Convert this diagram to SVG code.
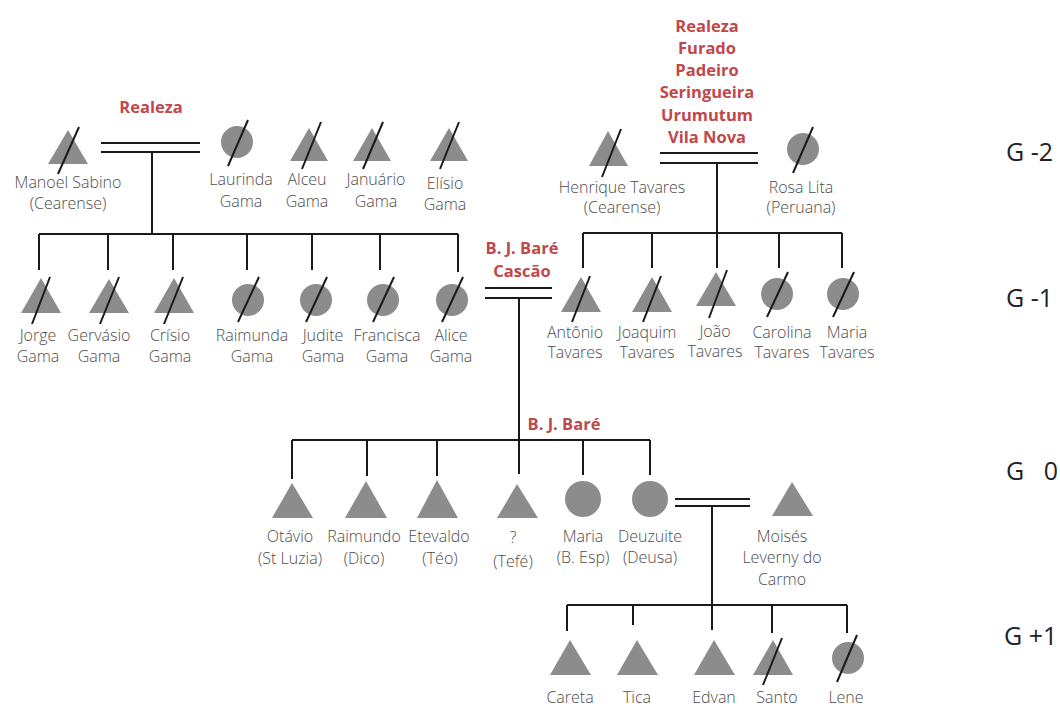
<svg xmlns="http://www.w3.org/2000/svg" width="1060" height="706" viewBox="0 0 1060 706">
  <style>
    .m { fill: #8c8c8c; }
    .f { fill: #8c8c8c; }
    .x { stroke: #1a1a1a; stroke-width: 2; stroke-linecap: butt; }
    .ln { stroke: #1a1a1a; stroke-width: 2; fill: none; }
    .t { font-family: "Open Sans", "Liberation Sans", sans-serif; font-size: 16px; font-weight: 300; fill: #4d4d4d; text-anchor: middle; }
    .r { font-family: "Open Sans", "Liberation Sans", sans-serif; font-size: 16.5px; font-weight: bold; fill: #c0474a; text-anchor: middle; }
    .g { font-family: "Open Sans", "Liberation Sans", sans-serif; font-size: 25px; fill: #222; }
  </style>

  <rect width="1060" height="706" fill="#ffffff"/>

  <!-- connectors: marriages (double lines), descent lines and sibships -->
  <g id="connectors" class="ln">
    <!-- Manoel Sabino = Laurinda Gama -->
    <path d="M101 143H200M101 152H200M152 152V234"/>
    <path d="M39 234H458M39 234V270M108 234V270M173 234V270M247 234V270M312 234V270M380 234V270M458 234V272"/>
    <!-- Henrique Tavares = Rosa Lita -->
    <path d="M660 153H758M660 163H758M717 163V233"/>
    <path d="M583 233H842M583 233V268M652 233V268M717 233V268M779 233V268M842 233V268"/>
    <!-- Alice Gama = Antônio Tavares -->
    <path d="M485 288H552M485 298H552M519 298V474"/>
    <path d="M292 440H650M292 440V479M367 440V476M437 440V476M583 440V475M650 440V475"/>
    <!-- Deuzuite = Moisés -->
    <path d="M675 499H750M675 506H750M712 506V605"/>
    <path d="M567 605H847M567 605V631M633 605V625M712 605V630M772 605V633M847 605V633"/>
  </g>

  <!-- kinship labels -->
  <g id="labels">
    <text class="r" x="151" y="113">Realeza</text>
    <text class="r" x="707" y="32">Realeza</text>
    <text class="r" x="707" y="54">Furado</text>
    <text class="r" x="707" y="76">Padeiro</text>
    <text class="r" x="707" y="98">Seringueira</text>
    <text class="r" x="707" y="121">Urumutum</text>
    <text class="r" x="707" y="143">Vila Nova</text>
    <text class="r" x="522" y="254">B. J. Baré</text>
    <text class="r" x="522" y="277">Cascão</text>
    <text class="r" x="564" y="430">B. J. Baré</text>
  </g>

  <!-- generation G-2 -->
  <g id="manoel">
    <polygon class="m" points="68,130 88,164 48,164"/>
    <line class="x" x1="79" y1="127" x2="58" y2="174"/>
    <text class="t" x="68" y="188">Manoel Sabino</text>
    <text class="t" x="68" y="209">(Cearense)</text>
  </g>
  <g id="laurinda">
    <circle class="f" cx="237" cy="142" r="16"/>
    <line class="x" x1="248" y1="120" x2="228" y2="166"/>
    <text class="t" x="241" y="185">Laurinda</text>
    <text class="t" x="241" y="207">Gama</text>
  </g>
  <g id="alceu">
    <polygon class="m" points="309,128 328,161 290,161"/>
    <line class="x" x1="321" y1="122" x2="302" y2="169"/>
    <text class="t" x="307" y="185">Alceu</text>
    <text class="t" x="307" y="207">Gama</text>
  </g>
  <g id="januario">
    <polygon class="m" points="372,128 391,161 353,161"/>
    <line class="x" x1="383" y1="122" x2="363" y2="169"/>
    <text class="t" x="376" y="185">Januário</text>
    <text class="t" x="376" y="207">Gama</text>
  </g>
  <g id="elisio">
    <polygon class="m" points="449,128 468,161 430,161"/>
    <line class="x" x1="459" y1="122" x2="440" y2="169"/>
    <text class="t" x="445" y="189">Elísio</text>
    <text class="t" x="445" y="210">Gama</text>
  </g>
  <g id="henrique">
    <polygon class="m" points="608,131 628,166 589,166"/>
    <line class="x" x1="621" y1="129" x2="602" y2="177"/>
    <text class="t" x="622" y="193">Henrique Tavares</text>
    <text class="t" x="622" y="213">(Cearense)</text>
  </g>
  <g id="rosa">
    <circle class="f" cx="803" cy="149" r="16"/>
    <line class="x" x1="813" y1="127" x2="793" y2="173"/>
    <text class="t" x="801" y="193">Rosa Lita</text>
    <text class="t" x="801" y="213">(Peruana)</text>
  </g>

  <!-- generation G-1 -->
  <g id="jorge">
    <polygon class="m" points="41,278 61,313 21,313"/>
    <line class="x" x1="50" y1="277" x2="32" y2="324"/>
    <text class="t" x="38" y="341">Jorge</text>
    <text class="t" x="38" y="362">Gama</text>
  </g>
  <g id="gervasio">
    <polygon class="m" points="109,279 129,313 89,313"/>
    <line class="x" x1="119" y1="277" x2="100" y2="324"/>
    <text class="t" x="99" y="341">Gervásio</text>
    <text class="t" x="99" y="362">Gama</text>
  </g>
  <g id="crisio">
    <polygon class="m" points="174,278 194,313 154,313"/>
    <line class="x" x1="183" y1="277" x2="164" y2="324"/>
    <text class="t" x="170" y="341">Crísio</text>
    <text class="t" x="170" y="362">Gama</text>
  </g>
  <g id="raimunda">
    <circle class="f" cx="248" cy="300" r="16"/>
    <line class="x" x1="259" y1="277" x2="238" y2="322"/>
    <text class="t" x="252" y="341">Raimunda</text>
    <text class="t" x="252" y="362">Gama</text>
  </g>
  <g id="judite">
    <circle class="f" cx="316" cy="300" r="16"/>
    <line class="x" x1="327" y1="277" x2="306" y2="322"/>
    <text class="t" x="323" y="341">Judite</text>
    <text class="t" x="323" y="362">Gama</text>
  </g>
  <g id="francisca">
    <circle class="f" cx="383" cy="300" r="16"/>
    <line class="x" x1="394" y1="277" x2="373" y2="322"/>
    <text class="t" x="387" y="341">Francisca</text>
    <text class="t" x="387" y="362">Gama</text>
  </g>
  <g id="alice">
    <circle class="f" cx="452" cy="300" r="16"/>
    <line class="x" x1="463" y1="277" x2="442" y2="322"/>
    <text class="t" x="451" y="341">Alice</text>
    <text class="t" x="451" y="362">Gama</text>
  </g>
  <g id="antonio">
    <polygon class="m" points="581,277 601,312 561,312"/>
    <line class="x" x1="590" y1="276" x2="572" y2="322"/>
    <text class="t" x="575" y="338">Antônio</text>
    <text class="t" x="575" y="358">Tavares</text>
  </g>
  <g id="joaquim">
    <polygon class="m" points="652,277 672,312 632,312"/>
    <line class="x" x1="661" y1="276" x2="643" y2="322"/>
    <text class="t" x="647" y="338">Joaquim</text>
    <text class="t" x="647" y="358">Tavares</text>
  </g>
  <g id="joao">
    <polygon class="m" points="716,272 736,306 696,306"/>
    <line class="x" x1="727" y1="270" x2="709" y2="318"/>
    <text class="t" x="715" y="337">João</text>
    <text class="t" x="715" y="357">Tavares</text>
  </g>
  <g id="carolina">
    <circle class="f" cx="777" cy="294" r="16"/>
    <line class="x" x1="788" y1="272" x2="767" y2="317"/>
    <text class="t" x="782" y="338">Carolina</text>
    <text class="t" x="782" y="358">Tavares</text>
  </g>
  <g id="maria-tavares">
    <circle class="f" cx="843" cy="294" r="16"/>
    <line class="x" x1="854" y1="272" x2="833" y2="317"/>
    <text class="t" x="847" y="338">Maria</text>
    <text class="t" x="847" y="358">Tavares</text>
  </g>

  <!-- generation G0 -->
  <g id="otavio">
    <polygon class="m" points="292,483 313,518 272,518"/>
    <text class="t" x="290" y="542">Otávio</text>
    <text class="t" x="290" y="564">(St Luzia)</text>
  </g>
  <g id="raimundo">
    <polygon class="m" points="366,481 387,518 345,518"/>
    <text class="t" x="364" y="542">Raimundo</text>
    <text class="t" x="364" y="564">(Dico)</text>
  </g>
  <g id="etevaldo">
    <polygon class="m" points="437,480 458,518 417,518"/>
    <text class="t" x="439" y="542">Etevaldo</text>
    <text class="t" x="440" y="564">(Téo)</text>
  </g>
  <g id="tefe">
    <polygon class="m" points="517,484 538,518 497,518"/>
    <text class="t" x="513" y="543">?</text>
    <text class="t" x="513" y="567">(Tefé)</text>
  </g>
  <g id="maria">
    <circle class="f" cx="583" cy="499" r="18"/>
    <text class="t" x="583" y="542">Maria</text>
    <text class="t" x="583" y="563">(B. Esp)</text>
  </g>
  <g id="deuzuite">
    <circle class="f" cx="650" cy="499" r="18"/>
    <text class="t" x="650" y="542">Deuzuite</text>
    <text class="t" x="650" y="563">(Deusa)</text>
  </g>
  <g id="moises">
    <polygon class="m" points="792,482 813,516 772,516"/>
    <text class="t" x="782" y="542">Moisés</text>
    <text class="t" x="782" y="563">Leverny do</text>
    <text class="t" x="782" y="585">Carmo</text>
  </g>

  <!-- generation G+1 -->
  <g id="careta">
    <polygon class="m" points="570,640 591,675 550,675"/>
    <text class="t" x="570" y="703">Careta</text>
  </g>
  <g id="tica">
    <polygon class="m" points="637,640 658,675 617,675"/>
    <text class="t" x="637" y="703">Tica</text>
  </g>
  <g id="edvan">
    <polygon class="m" points="714,640 735,675 694,675"/>
    <text class="t" x="714" y="703">Edvan</text>
  </g>
  <g id="santo">
    <polygon class="m" points="773,640 793,675 753,675"/>
    <line class="x" x1="782" y1="638" x2="763" y2="685"/>
    <text class="t" x="777" y="703">Santo</text>
  </g>
  <g id="lene">
    <circle class="f" cx="848" cy="658" r="16"/>
    <line class="x" x1="857" y1="635" x2="837" y2="682"/>
    <text class="t" x="846" y="703">Lene</text>
  </g>

  <!-- generation markers -->
  <g id="generations">
    <text class="g" x="1006" y="161" xml:space="preserve">G -2</text>
    <text class="g" x="1006" y="307" xml:space="preserve">G -1</text>
    <text class="g" x="1006" y="480" xml:space="preserve">G   0</text>
    <text class="g" x="1004" y="645" xml:space="preserve">G +1</text>
  </g>
</svg>
